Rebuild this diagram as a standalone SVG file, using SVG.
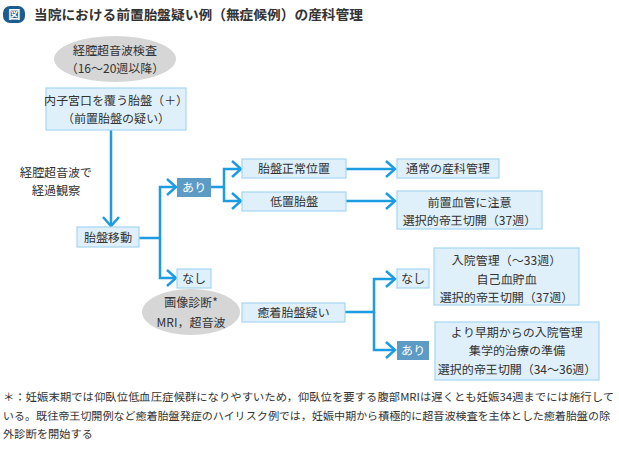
<svg xmlns="http://www.w3.org/2000/svg" width="619" height="449" viewBox="0 0 619 449">
<style>
text{font-family:"Noto Sans JP","Noto Sans CJK JP",sans-serif;fill:#333333;font-size:12px}
.c{text-anchor:middle}
.box{fill:#dff0fb;stroke:#a6d6f2;stroke-width:1.2}
.dark{fill:#5b9bc4}
.ell{fill:#d6d6d6}
.w{fill:#ffffff}
.ln{fill:none;stroke:#1c9ce3;stroke-width:2.5}
.fn{font-size:11px}
</style>
<defs>
<marker id="chev" markerUnits="userSpaceOnUse" markerWidth="14" markerHeight="20" refX="10" refY="9" orient="auto" viewBox="0 0 14 20">
<path d="M1,1 L10,9 L1,17" fill="none" stroke="#1c9ce3" stroke-width="2.5"/>
</marker>
</defs>
<g id="title">
<rect x="3" y="6" width="22" height="17" rx="7" fill="#1d5c8e"/>
<text x="14" y="19" class="c w" style="font-weight:bold;font-size:12px">図</text>
<text x="34" y="19.5" style="font-weight:bold;font-size:14px" textLength="329" lengthAdjust="spacingAndGlyphs">当院における前置胎盤疑い例（無症候例）の産科管理</text>
</g>
<g id="connectors">
<path class="ln" d="M111,130 V226" marker-end="url(#chev)"/>
<path class="ln" d="M139,238 H160 V187 H176" marker-end="url(#chev)"/>
<path class="ln" d="M160,238 V278 H176" marker-end="url(#chev)"/>
<path class="ln" d="M211,187 H224 V169 H241" marker-end="url(#chev)"/>
<path class="ln" d="M224,187 V201 H241" marker-end="url(#chev)"/>
<path class="ln" d="M346,169 H395" marker-end="url(#chev)"/>
<path class="ln" d="M346,201 H395" marker-end="url(#chev)"/>
<path class="ln" d="M345,312 H374 V279 H395" marker-end="url(#chev)"/>
<path class="ln" d="M374,312 V350 H395" marker-end="url(#chev)"/>
</g>
<g id="n-exam">
<ellipse class="ell" cx="115" cy="59" rx="61" ry="23"/>
<text x="115" y="54.5" class="c">経腔超音波検査</text>
<text x="115" y="72.5" class="c">（16〜20週以降）</text>
</g>
<g id="n-cover">
<rect class="box" x="46" y="88" width="140" height="42"/>
<text x="116" y="104.5" class="c">内子宮口を覆う胎盤（＋）</text>
<text x="116" y="122.5" class="c">（前置胎盤の疑い）</text>
</g>
<g id="n-observe">
<text x="56" y="176.5" class="c">経腔超音波で</text>
<text x="56" y="194.5" class="c">経過観察</text>
</g>
<g id="n-move">
<rect class="box" x="77" y="227" width="62" height="20"/>
<text x="108" y="241.5" class="c">胎盤移動</text>
</g>
<g id="n-yes1">
<rect class="dark" x="177" y="178" width="34" height="19"/>
<text x="194" y="191.5" class="c w">あり</text>
</g>
<g id="n-no1">
<rect class="box" x="177" y="269" width="34" height="19"/>
<text x="194" y="283" class="c">なし</text>
</g>
<g id="n-normal">
<rect class="box" x="242" y="159" width="104" height="19"/>
<text x="294" y="173" class="c">胎盤正常位置</text>
</g>
<g id="n-low">
<rect class="box" x="242" y="192" width="104" height="19"/>
<text x="294" y="206" class="c">低置胎盤</text>
</g>
<g id="n-usual">
<rect class="box" x="397" y="159" width="102" height="19"/>
<text x="448" y="173" class="c">通常の産科管理</text>
</g>
<g id="n-vasa">
<rect class="box" x="397" y="191" width="145" height="38"/>
<text x="469.5" y="206.5" class="c">前置血管に注意</text>
<text x="469.5" y="225" class="c">選択的帝王切開（37週）</text>
</g>
<g id="n-imaging">
<ellipse class="ell" cx="191" cy="312" rx="49" ry="23"/>
<text x="191" y="306.5" class="c">画像診断*</text>
<text x="191" y="326.5" class="c">MRI，超音波</text>
</g>
<g id="n-accreta">
<rect class="box" x="242" y="303" width="103" height="19"/>
<text x="293.5" y="317" class="c">癒着胎盤疑い</text>
</g>
<g id="n-no2">
<rect class="box" x="397" y="269" width="32" height="19"/>
<text x="413" y="283" class="c">なし</text>
</g>
<g id="n-yes2">
<rect class="dark" x="397" y="341" width="32" height="19"/>
<text x="413" y="355" class="c w">あり</text>
</g>
<g id="n-admit">
<rect class="box" x="434" y="248" width="145" height="57"/>
<text x="506.5" y="264.5" class="c">入院管理（〜33週）</text>
<text x="506.5" y="283.5" class="c">自己血貯血</text>
<text x="506.5" y="302" class="c">選択的帝王切開（37週）</text>
</g>
<g id="n-early">
<rect class="box" x="435" y="322" width="164" height="58"/>
<text x="517" y="336.5" class="c">より早期からの入院管理</text>
<text x="517" y="355" class="c">集学的治療の準備</text>
<text x="517" y="373.5" class="c">選択的帝王切開（34〜36週）</text>
</g>
<g id="footnote">
<text x="3" y="401" class="fn" textLength="611" lengthAdjust="spacingAndGlyphs">＊：妊娠末期では仰臥位低血圧症候群になりやすいため，仰臥位を要する腹部MRIは遅くとも妊娠34週までには施行して</text>
<text x="3" y="419.5" class="fn" textLength="607" lengthAdjust="spacingAndGlyphs">いる。既往帝王切開例など癒着胎盤発症のハイリスク例では，妊娠中期から積極的に超音波検査を主体とした癒着胎盤の除</text>
<text x="3" y="438" class="fn" textLength="90" lengthAdjust="spacingAndGlyphs">外診断を開始する</text>
</g>
</svg>
